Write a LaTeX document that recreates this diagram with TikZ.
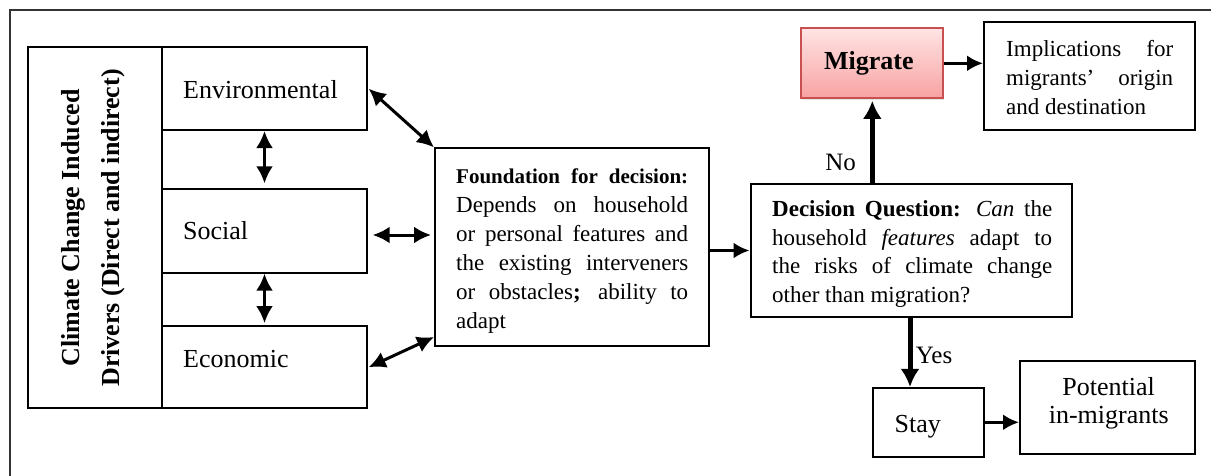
\documentclass[tikz,border=0pt]{standalone}
\usepackage{fontspec}
\setmainfont{Liberation Serif}
\usetikzlibrary{arrows.meta,shadows}
\newcommand\myfs[2]{\fontsize{#1}{#2}\selectfont}
\newcommand\jl[2]{\makebox[#1][s]{#2}}
\definecolor{migtop}{RGB}{255,228,228}
\definecolor{migbot}{RGB}{248,162,162}
\definecolor{migline}{RGB}{200,80,80}
\begin{document}
\begin{tikzpicture}[x=1pt,y=-1pt,
  box/.style={draw, line width=2pt, inner sep=0pt},
  dbl/.style={line width=3pt, {Latex[length=17pt,width=17pt]}-{Latex[length=17pt,width=17pt]}},
  arr/.style={line width=3pt, -{Latex[length=16pt,width=16pt]}},
  bigarr/.style={line width=5pt, -{Latex[length=18pt,width=19pt]}},
  txt/.style={inner sep=0pt, anchor=base west, align=left},
  frame/.style={line width=1.5pt, black!80},
]
\useasboundingbox (0,0) rectangle (1211,476);
% outer frame (only top and left edges visible)
\draw[frame] (1211,10) -- (10,10) -- (10,476);

% left column
\node[box, minimum width=134pt, minimum height=361pt] (drivers) at (95.3,227.8) {};
\node[rotate=90, font=\bfseries\myfs{26}{40}, align=center, inner sep=0pt] (drvtext) at (93,228)
  {Climate Change Induced\\Drivers (Direct and indirect)};

\node[box, minimum width=204.4pt, minimum height=82.7pt] (env) at (264.5,88.7) {};
\node[box, minimum width=204.4pt, minimum height=83.4pt] (social) at (264.5,231) {};
\node[box, minimum width=204.4pt, minimum height=82.3pt] (econ) at (264.5,367.2) {};
\node[txt, font=\myfs{26}{30}] (envtext) at (183,99) {Environmental};
\node[txt, font=\myfs{26}{30}] (soctext) at (183,240) {Social};
\node[txt, font=\myfs{26}{30}] (ecotext) at (183,367) {Economic};

% foundation (base anchor = baseline of the last line)
\node[box, minimum width=274pt, minimum height=197.7pt] (found) at (572,247.2) {};
\node[txt, font=\myfs{23}{29}] (foundtext) at (456,328)
  {\jl{232pt}{\myfs{21}{29}\bfseries Foundation for decision:}\\
   \jl{232pt}{Depends on household}\\
   \jl{232pt}{or personal features and}\\
   \jl{232pt}{the existing interveners}\\
   \jl{232pt}{or obstacles\textbf{;} ability to}\\
   adapt};

% decision
\node[box, minimum width=321pt, minimum height=133pt] (decision) at (911,250.5) {};
\node[txt, font=\myfs{23}{28.5}] (dectext) at (772,302)
  {\jl{280pt}{\textbf{Decision Question:} \textit{Can} the}\\
   \jl{280pt}{household \textit{features} adapt to}\\
   \jl{280pt}{the risks of climate change}\\
   other than migration?};

% migrate
\node[draw=migline, line width=2pt, top color=migtop, bottom color=migbot,
      drop shadow={opacity=0.2, shadow xshift=1.5pt, shadow yshift=-2pt},
      minimum width=142pt, minimum height=70pt, inner sep=0pt] (migrate) at (871.7,63.3) {};
\node[inner sep=0pt, anchor=base, font=\bfseries\myfs{26}{30}] (migtext) at (868.8,70) {Migrate};

% implications
\node[box, minimum width=211pt, minimum height=107.7pt] (impl) at (1089.5,76.2) {};
\node[txt, font=\myfs{23}{29}] (impltext) at (1006,115)
  {\jl{167pt}{Implications for}\\
   \jl{167pt}{migrants’ origin}\\
   and destination};

% stay
\node[box, minimum width=111.6pt, minimum height=68.7pt] (stay) at (928.5,422.3) {};
\node[inner sep=0pt, anchor=base, font=\myfs{26}{30}] (staytext) at (917.8,432.7) {Stay};

% potential
\node[box, minimum width=175pt, minimum height=93.6pt] (potential) at (1107.5,407.5) {};
\node[inner sep=0pt, anchor=base, align=center, font=\myfs{26}{28}] (pottext) at (1108.7,423)
  {Potential\\in-migrants};

% connectors
\draw[dbl] ([xshift=1pt]env.east) -- (found.north west);
\coordinate (sA) at ([xshift=5pt,yshift=-4pt]social.east);
\draw[dbl, shorten >=3pt] (sA) -- (sA -| found.west);
\draw[dbl] ([xshift=1pt]econ.east) -- ([yshift=10pt]found.south west);
\draw[dbl, shorten >=5pt] (env.south) -- (social.north);
\draw[dbl, shorten >=2pt] (social.south) -- (econ.north);

\draw[arr] (found.east |- decision.west) -- (decision.west);
\draw[bigarr, shorten >=1.5pt] ([xshift=0.6pt]migrate.south |- decision.north) -- ([xshift=0.6pt]migrate.south)
  node[pos=0.1435, anchor=base east, xshift=-14pt, inner sep=0pt, font=\myfs{25}{30}] (nolabel) {No};
\draw[arr] (migrate.east) -- (migrate.east -| impl.west);

\coordinate (yA) at ([xshift=-18.5pt]stay.north |- decision.south);
\draw[bigarr] (yA) -- ([xshift=-18.5pt]stay.north);
\node[txt, font=\myfs{25}{30}] (yeslabel) at (915.7,363) {Yes};
\draw[arr] (stay.east) -- (stay.east -| potential.west);
\end{tikzpicture}
\end{document}
